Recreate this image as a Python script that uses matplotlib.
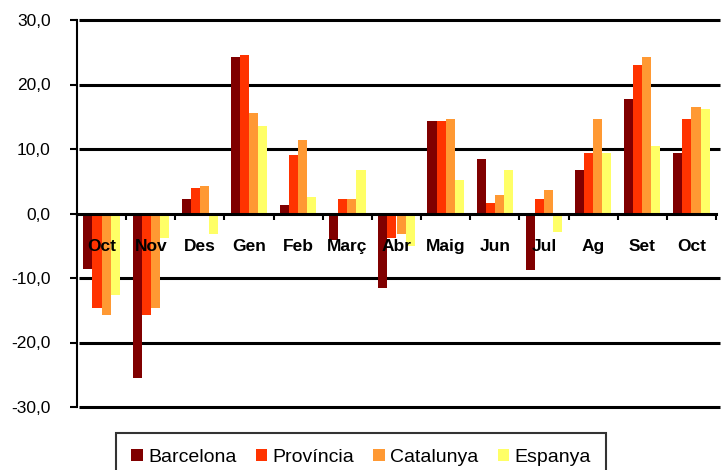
import matplotlib
matplotlib.use("Agg")
import matplotlib.pyplot as plt
import numpy as np

plt.rcParams['font.family'] = ['Liberation Sans', 'DejaVu Sans']

categories = ["Oct", "Nov", "Des", "Gen", "Feb", "Març", "Abr", "Maig", "Jun", "Jul", "Ag", "Set", "Oct"]
barcelona = [-8.6, -25.5, 2.3, 24.3, 1.3, -4.1, -11.6, 14.3, 8.5, -8.7, 6.8, 17.8, 9.4]
provincia = [-14.7, -15.8, 3.9, 24.6, 9.1, 2.3, -3.8, 14.3, 1.7, 2.3, 9.4, 23.0, 14.6]
catalunya = [-15.8, -14.7, 4.2, 15.6, 11.4, 2.3, -3.2, 14.6, 2.9, 3.6, 14.6, 24.3, 16.5]
espanya = [-12.6, -3.8, -3.2, 13.5, 2.6, 6.8, -5.1, 5.2, 6.8, -2.9, 9.4, 10.4, 16.2]
series_names = ["Barcelona", "Província", "Catalunya", "Espanya"]
colors = ["#800000", "#FF3300", "#FF9933", "#FFFF66"]
yticks = [-30, -20, -10, 0, 10, 20, 30]

fig = plt.figure(figsize=(7.26, 4.70), dpi=100)
ax = fig.add_axes([77/726, 1-407/470, (716-77)/726, (407-20)/470])

x = np.arange(len(categories))
w = 0.185
data = [barcelona, provincia, catalunya, espanya]
for k, (vals, name, c) in enumerate(zip(data, series_names, colors)):
    ax.bar(x + (k - 1.5) * w, vals, width=w, color=c, label=name, zorder=2, linewidth=0)

ax.set_xlim(-0.5, len(categories) - 0.5)
ax.set_ylim(-30, 30)

for yv in yticks:
    if yv != 0:
        ax.plot([-0.46, len(categories) - 0.42], [yv, yv], color="black",
                linewidth=2.2, zorder=1, clip_on=False, solid_capstyle='butt')

ax.spines['top'].set_visible(False)
ax.spines['right'].set_visible(False)
ax.spines['bottom'].set_position(('data', 0))
ax.spines['bottom'].set_linewidth(2.2)
ax.spines['bottom'].set_zorder(3)
ax.spines['left'].set_linewidth(1.5)

ax.set_xticks(np.arange(-0.5, len(categories), 1.0))
ax.set_xticklabels([])
ax.tick_params(axis='x', direction='out', length=4, width=1.5)

ax.set_yticks(yticks)
ax.set_yticklabels([f"{v:.1f}".replace('.', ',') for v in yticks], fontsize=12.5)
ax.tick_params(axis='y', direction='out', length=5, width=1.5, pad=14)

for i, cat in enumerate(categories):
    ax.text(i, -5.1, cat, ha='center', va='center', fontsize=12.5,
            fontweight='bold', zorder=5)

leg = fig.legend(loc='upper center', bbox_to_anchor=(361/726, 1-433/470), ncol=4,
                 fontsize=14, frameon=True, fancybox=False, edgecolor='black',
                 handlelength=0.6, handleheight=0.6, handletextpad=0.25,
                 columnspacing=1.0, borderpad=0.8, borderaxespad=0)
leg.get_frame().set_linewidth(1.5)

fig.savefig("out.png", dpi=100)
